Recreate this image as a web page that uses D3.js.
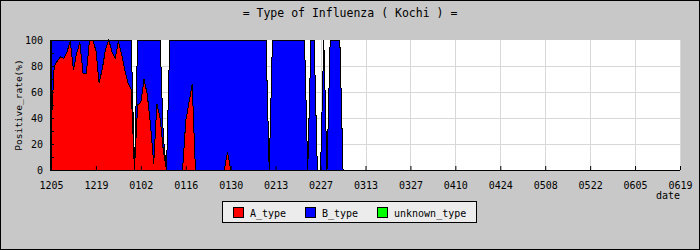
<!DOCTYPE html>
<html>
<head>
<meta charset="utf-8">
<script src="https://d3js.org/d3.v7.min.js"></script>
<style>
  body { margin: 0; background: #c8c8c8; }
  svg { display: block; }
  text { font-family: "DejaVu Sans Mono", monospace; fill: #000; }
</style>
</head>
<body>
<svg id="chart" width="700" height="250"></svg>
<script>
// daily data from 2017-12-05, percent of positives
var startDate = "2017-12-05"
var aType = [30, 80, 84, 87, 86, 91, 99, 77, 90, 98,
             74, 74, 100, 100, 92, 67, 78, 93, 100, 91,
             86, 99, 89, 77, 67, 62, 0, 50, 52, 70,
             58, 35, 5, 51, 40, 15, 0, 0, 0, 0,
             0, 0, 38, 52, 66, 0, 0, 0, 0, 0,
             0, 0, 0, 0, 0, 14, 0, 0, 0, 0,
             0, 0, 0, 0, 0, 0, 0, 0, 0, 0,
             0, 0, 0, 0, 0, 0, 0, 0, 0, 0,
             0, 0, 0, 0, 0, 0, 0, 0, 0, 0,
             0, 0]
var bType = [70, 20, 16, 13, 14, 9, 1, 23, 10, 2,
             26, 26, 0, 0, 8, 33, 22, 7, 0, 9,
             14, 1, 11, 23, 33, 38, 0, 50, 48, 30,
             42, 65, 95, 49, 60, 10, 0, 100, 100, 100,
             100, 100, 62, 48, 34, 100, 100, 100, 100, 100,
             100, 100, 100, 100, 100, 86, 100, 100, 100, 100,
             100, 100, 100, 100, 100, 100, 100, 100, 0, 100,
             100, 100, 100, 100, 100, 100, 100, 100, 100, 100,
             0, 100, 100, 0, 0, 100, 0, 100, 100, 100,
             100, 0]
var unknownType = aType.map(function() { return 0; })

var tickLabels = ["1205", "1219", "0102", "0116", "0130", "0213", "0227",
                  "0313", "0327", "0410", "0424", "0508", "0522", "0605", "0619"]
var yTicks = [0, 20, 40, 60, 80, 100]
var seriesNames = ["A_type", "B_type", "unknown_type"]
var seriesColors = ["#ff0000", "#0000ff", "#00ff00"]

var svg = d3.select("#chart")
var plotLeft = 51, plotRight = 680, plotTop = 40, plotBottom = 170

// outer frame
svg.append("rect").attr("x", 0.5).attr("y", 0.5).attr("width", 699).attr("height", 249)
  .attr("fill", "#c8c8c8").attr("stroke", "#000")

var t0 = d3.timeParse("%Y-%m-%d")(startDate)
var dates = aType.map(function(v, i) { return d3.timeDay.offset(t0, i); })
var tickDates = tickLabels.map(function(v, i) { return d3.timeDay.offset(t0, i * 14); })

var x = d3.scaleTime().domain([tickDates[0], tickDates[tickDates.length - 1]]).range([plotLeft, plotRight])
var y = d3.scaleLinear().domain([0, 100]).range([plotBottom, plotTop])

svg.append("rect").attr("x", plotLeft).attr("y", plotTop)
  .attr("width", plotRight - plotLeft).attr("height", plotBottom - plotTop)
  .attr("fill", "#fff")

// grid
svg.append("g").selectAll("line").data(yTicks.slice(1, 5)).enter().append("line")
  .attr("x1", plotLeft).attr("x2", plotRight)
  .attr("y1", function(d) { return Math.round(y(d)) + 0.5; })
  .attr("y2", function(d) { return Math.round(y(d)) + 0.5; })
  .attr("stroke", "#d8d8d8")
svg.append("g").selectAll("line").data(tickDates.slice(1)).enter().append("line")
  .attr("x1", function(d) { return Math.round(x(d)) + 0.5; })
  .attr("x2", function(d) { return Math.round(x(d)) + 0.5; })
  .attr("y1", plotTop).attr("y2", plotBottom)
  .attr("stroke", "#d8d8d8")

var rows = dates.map(function(d, i) {
  return { date: d, A_type: aType[i], B_type: bType[i], unknown_type: unknownType[i] };
})
var stacked = d3.stack().keys(seriesNames)(rows)

var area = d3.area()
  .x(function(d) { return x(d.data.date); })
  .y0(function(d) { return y(d[0]); })
  .y1(function(d) { return y(d[1]); })

svg.append("g").selectAll("path").data(stacked).enter().append("path")
  .attr("d", area)
  .attr("fill", function(d, i) { return seriesColors[i]; })
  .attr("stroke", "#000")
  .attr("stroke-width", 1)
  .attr("shape-rendering", "crispEdges")

// axes
var xAxis = d3.axisBottom(x).tickValues(tickDates).tickSize(-4)
  .tickFormat(function(d, i) { return tickLabels[i]; })
var gx = svg.append("g").attr("transform", "translate(0," + plotBottom + ")").call(xAxis)
gx.select(".domain").remove()
gx.selectAll("text").attr("y", 12).style("font-size", "10px").style("font-family", "DejaVu Sans Mono")

var yAxis = d3.axisLeft(y).tickValues(yTicks).tickSize(0).tickPadding(8)
var gy = svg.append("g").attr("transform", "translate(" + plotLeft + ",0)").call(yAxis)
gy.select(".domain").remove()
gy.selectAll("text").style("font-size", "10px").style("font-family", "DejaVu Sans Mono")

svg.append("g").selectAll("line").data(d3.range(10, 100, 10)).enter().append("line")
  .attr("x1", plotLeft).attr("x2", plotLeft + 3)
  .attr("y1", function(d) { return Math.round(y(d)) + 0.5; })
  .attr("y2", function(d) { return Math.round(y(d)) + 0.5; })
  .attr("stroke", "#000")

svg.append("line").attr("x1", plotLeft - 0.5).attr("x2", plotLeft - 0.5)
  .attr("y1", plotTop).attr("y2", plotBottom + 1).attr("stroke", "#000")
svg.append("line").attr("x1", plotLeft - 1).attr("x2", plotRight)
  .attr("y1", plotBottom + 0.5).attr("y2", plotBottom + 0.5).attr("stroke", "#000")

// titles
svg.append("text").attr("x", 350).attr("y", 17).attr("text-anchor", "middle")
  .style("font-size", "11.5px").text("= Type of Influenza ( Kochi ) =")
svg.append("text").attr("transform", "translate(22,105) rotate(-90)").attr("text-anchor", "middle")
  .style("font-size", "9.5px").text("Positive_rate(%)")
svg.append("text").attr("x", 680).attr("y", 199).attr("text-anchor", "end")
  .style("font-size", "10px").text("date")

// legend
var lg = svg.append("g")
lg.append("rect").attr("x", 222.5).attr("y", 201.5).attr("width", 254).attr("height", 21)
  .attr("fill", "#ececec").attr("stroke", "#000")
var legendX = [233, 305, 377]
seriesNames.forEach(function(name, i) {
  lg.append("rect").attr("x", legendX[i] + 0.5).attr("y", 207.5).attr("width", 10).attr("height", 10)
    .attr("fill", seriesColors[i]).attr("stroke", "#000")
  lg.append("text").attr("x", legendX[i] + 17).attr("y", 216.5).style("font-size", "10px").text(name)
})
</script>
</body>
</html>
